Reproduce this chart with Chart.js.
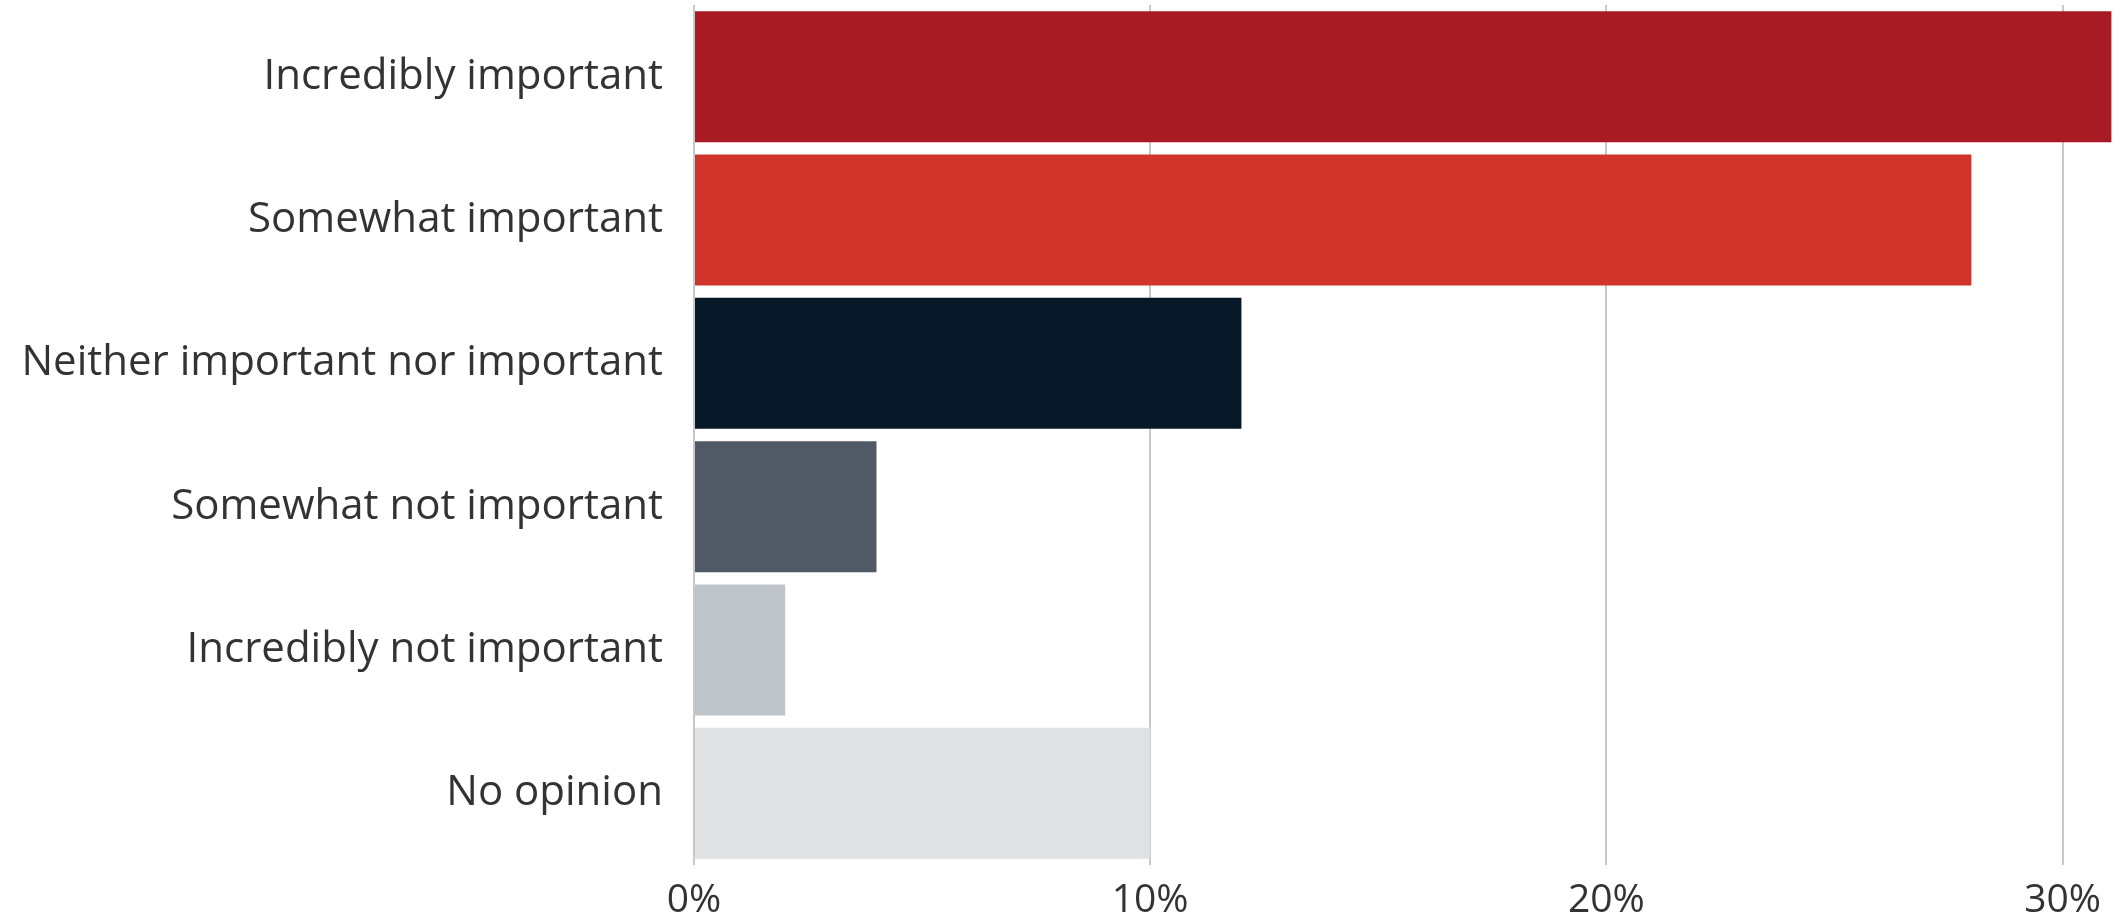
<!DOCTYPE html>
<html lang="en">
<head>
  <meta charset="UTF-8">
  <title>Importance survey</title>
  <script src="https://cdn.jsdelivr.net/npm/chart.js"></script>
  <style>
    html, body {
      margin: 0;
      padding: 0;
      background: #ffffff;
    }
    .chart-container {
      width: 2113px;
      height: 917px;
    }
  </style>
</head>
<body>

  <div class="chart-container">
    <canvas id="myChart"></canvas>
  </div>

  <script>
    const categories = [
      'Incredibly important',
      'Somewhat important',
      'Neither important nor important',
      'Somewhat not important',
      'Incredibly not important',
      'No opinion'
    ];
    const shares = [32, 28, 12, 4, 2, 10];
    const barColors = ['#a81a24', '#d0342a', '#071828', '#4f5a66', '#bfc4c8', '#e0e1e3'];
    const tickValues = [0, 10, 20, 30];

    new Chart(document.getElementById('myChart'), {
      type: 'bar',
      data: {
        labels: categories,
        datasets: [{
          data: shares,
          backgroundColor: barColors,
          borderWidth: 0,
          barPercentage: 0.914,
          categoryPercentage: 1
        }]
      },
      options: {
        indexAxis: 'y',
        responsive: true,
        maintainAspectRatio: false,
        animation: false,
        layout: { padding: { top: 5, right: 0, left: 0, bottom: 0 } },
        plugins: {
          legend: { display: false },
          tooltip: { enabled: false }
        },
        scales: {
          x: {
            min: 0,
            max: 31.07,
            afterBuildTicks: scale => {
              scale.ticks = tickValues.map(v => ({ value: v }));
            },
            afterFit: scale => { scale.height = 52; },
            grid: {
              color: '#c8c8c8',
              lineWidth: 2,
              drawTicks: false
            },
            border: { display: false },
            ticks: {
              padding: 12,
              color: '#333333',
              font: { family: 'Open Sans', size: 39 },
              callback: v => v + '%'
            }
          },
          y: {
            afterFit: scale => {
              scale.width = 694;
              // the label padding would otherwise push the plot down
              scale.paddingTop = 0;
              scale.paddingBottom = 0;
            },
            grid: { display: false, drawTicks: false },
            border: { display: false },
            ticks: {
              padding: 31,
              color: '#333333',
              font: { family: 'Open Sans', size: 42 }
            }
          }
        }
      }
    });
  </script>
</body>
</html>
